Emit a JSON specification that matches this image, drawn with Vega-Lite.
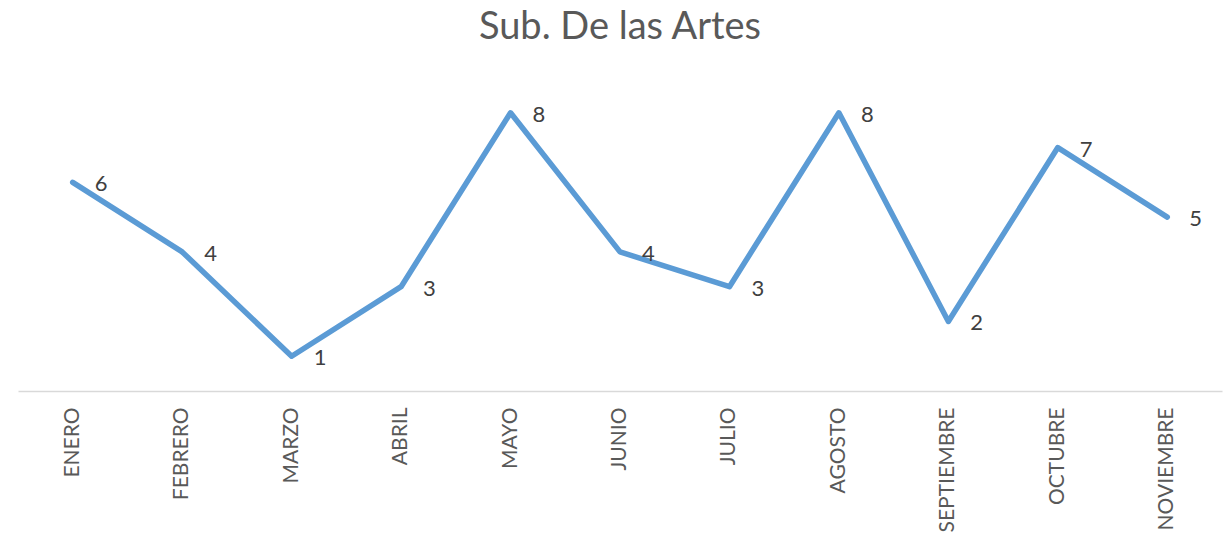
{
  "$schema": "https://vega.github.io/schema/vega-lite/v6.json",
  "width": 1204,
  "height": 313,
  "autosize": {"type": "none"},
  "padding": {"left": 18, "top": 78, "right": 5, "bottom": 152},
  "background": "white",
  "title": {
    "text": "Sub. De las Artes",
    "font": "Lato",
    "fontSize": 38,
    "fontWeight": "normal",
    "color": "#595959",
    "anchor": "middle",
    "baseline": "alphabetic",
    "offset": 1
  },
  "data": {
    "values": [
      {"mes": "ENERO", "valor": 6},
      {"mes": "FEBRERO", "valor": 4},
      {"mes": "MARZO", "valor": 1},
      {"mes": "ABRIL", "valor": 3},
      {"mes": "MAYO", "valor": 8},
      {"mes": "JUNIO", "valor": 4},
      {"mes": "JULIO", "valor": 3},
      {"mes": "AGOSTO", "valor": 8},
      {"mes": "SEPTIEMBRE", "valor": 2},
      {"mes": "OCTUBRE", "valor": 7},
      {"mes": "NOVIEMBRE", "valor": 5}
    ]
  },
  "encoding": {
    "x": {
      "field": "mes",
      "type": "ordinal",
      "sort": null,
      "scale": {"type": "band", "paddingInner": 0, "paddingOuter": 0},
      "axis": {
        "title": null,
        "labelAngle": -90,
        "labelFont": "Lato",
        "labelFontSize": 21,
        "labelColor": "#595959",
        "labelPadding": 16,
        "ticks": false,
        "tickSize": 0,
        "domainColor": "#D9D9D9",
        "domainWidth": 1.5,
        "grid": false
      }
    },
    "y": {
      "field": "valor",
      "type": "quantitative",
      "scale": {"domain": [0, 9], "nice": false, "zero": true},
      "axis": null
    }
  },
  "layer": [
    {
      "mark": {
        "type": "line",
        "color": "#5B9BD5",
        "strokeWidth": 5.5,
        "strokeCap": "round",
        "strokeJoin": "round"
      }
    },
    {
      "mark": {
        "type": "text",
        "align": "left",
        "baseline": "middle",
        "dx": 22,
        "dy": 2,
        "font": "Lato",
        "fontSize": 22,
        "color": "#404040"
      },
      "encoding": {
        "text": {"field": "valor", "type": "quantitative"}
      }
    }
  ],
  "config": {
    "view": {"stroke": null}
  }
}
